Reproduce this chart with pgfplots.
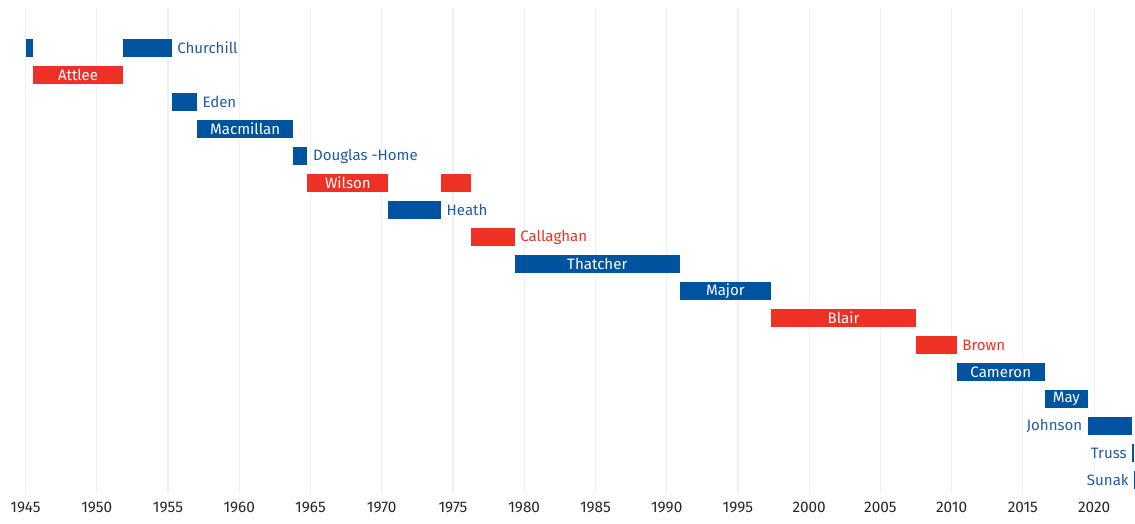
\documentclass[border=0pt]{standalone}
\usepackage{pgfplots}
\pgfplotsset{compat=1.18}
\usepackage{fontspec}
\setmainfont{Fira Sans}
\definecolor{con}{HTML}{00539F}
\definecolor{lab}{HTML}{EE3124}
\definecolor{contxt}{HTML}{1F5CA8}
\definecolor{gridc}{HTML}{EDEFF2}
\newcommand{\lblfont}{\fontsize{11.3}{13}\selectfont}
\newcommand{\tickfont}{\fontsize{11.5}{13}\selectfont}
\begin{document}
\lblfont
\begin{tikzpicture}[lbl/.style={font=\lblfont, inner sep=0pt}]
\begin{axis}[name=ax, at={(0,0)}, anchor=south west, scale only axis,
  width=832.1pt, height=363.75pt,
  xmin=1945, xmax=2022.87, ymin=-0.48, ymax=17.48, y dir=reverse,
  axis line style={draw=none}, ytick=\empty,
  xtick={1945,1950,...,2020}, xmajorgrids,
  grid style={gridc, line width=0.9pt},
  major tick length=0pt,
  xticklabel={\tickfont\pgfmathprintnumber[1000 sep={},assume math mode=true]{\tick}},
  xticklabel style={anchor=center, yshift=-10.5pt, text=black!85},
  clip=false,
]
% Churchill
\addplot[fill=con, draw=none] coordinates {(1945,0.667) (1945.56,0.667) (1945.56,1.333) (1945,1.333)};
\addplot[fill=con, draw=none] coordinates {(1951.82,0.667) (1955.26,0.667) (1955.26,1.333) (1951.82,1.333)};
% Attlee
\addplot[fill=lab, draw=none] coordinates {(1945.56,1.667) (1951.82,1.667) (1951.82,2.333) (1945.56,2.333)};
% Eden
\addplot[fill=con, draw=none] coordinates {(1955.26,2.667) (1957.03,2.667) (1957.03,3.333) (1955.26,3.333)};
% Macmillan
\addplot[fill=con, draw=none] coordinates {(1957.03,3.667) (1963.80,3.667) (1963.80,4.333) (1957.03,4.333)};
% Douglas-Home
\addplot[fill=con, draw=none] coordinates {(1963.80,4.667) (1964.79,4.667) (1964.79,5.333) (1963.80,5.333)};
% Wilson
\addplot[fill=lab, draw=none] coordinates {(1964.79,5.667) (1970.47,5.667) (1970.47,6.333) (1964.79,6.333)};
\addplot[fill=lab, draw=none] coordinates {(1974.17,5.667) (1976.26,5.667) (1976.26,6.333) (1974.17,6.333)};
% Heath
\addplot[fill=con, draw=none] coordinates {(1970.47,6.667) (1974.17,6.667) (1974.17,7.333) (1970.47,7.333)};
% Callaghan
\addplot[fill=lab, draw=none] coordinates {(1976.26,7.667) (1979.34,7.667) (1979.34,8.333) (1976.26,8.333)};
% Thatcher
\addplot[fill=con, draw=none] coordinates {(1979.34,8.667) (1990.91,8.667) (1990.91,9.333) (1979.34,9.333)};
% Major
\addplot[fill=con, draw=none] coordinates {(1990.91,9.667) (1997.33,9.667) (1997.33,10.333) (1990.91,10.333)};
% Blair
\addplot[fill=lab, draw=none] coordinates {(1997.33,10.667) (2007.49,10.667) (2007.49,11.333) (1997.33,11.333)};
% Brown
\addplot[fill=lab, draw=none] coordinates {(2007.49,11.667) (2010.36,11.667) (2010.36,12.333) (2007.49,12.333)};
% Cameron
\addplot[fill=con, draw=none] coordinates {(2010.36,12.667) (2016.53,12.667) (2016.53,13.333) (2010.36,13.333)};
% May
\addplot[fill=con, draw=none] coordinates {(2016.53,13.667) (2019.56,13.667) (2019.56,14.333) (2016.53,14.333)};
% Johnson
\addplot[fill=con, draw=none] coordinates {(2019.56,14.667) (2022.68,14.667) (2022.68,15.333) (2019.56,15.333)};
% Truss
\addplot[fill=con, draw=none] coordinates {(2022.68,15.667) (2022.80,15.667) (2022.80,16.333) (2022.68,16.333)};
% Sunak
\addplot[fill=con, draw=none] coordinates {(2022.82,16.667) (2022.87,16.667) (2022.87,17.333) (2022.82,17.333)};

% labels
\node[lbl, anchor=west, text=contxt, xshift=4pt] at (axis cs:1955.26,1) {Churchill};
\node[lbl, text=white] at (axis cs:1948.69,2) {Attlee};
\node[lbl, anchor=west, text=contxt, xshift=4pt] at (axis cs:1957.03,3) {Eden};
\node[lbl, text=white] at (axis cs:1960.42,4) {Macmillan};
\node[lbl, anchor=west, text=contxt, xshift=4pt] at (axis cs:1964.79,5) {Douglas -Home};
\node[lbl, text=white] at (axis cs:1967.63,6) {Wilson};
\node[lbl, anchor=west, text=contxt, xshift=4pt] at (axis cs:1974.17,7) {Heath};
\node[lbl, anchor=west, text=lab, xshift=4pt] at (axis cs:1979.34,8) {Callaghan};
\node[lbl, text=white] at (axis cs:1985.13,9) {Thatcher};
\node[lbl, text=white] at (axis cs:1994.12,10) {Major};
\node[lbl, text=white] at (axis cs:2002.41,11) {Blair};
\node[lbl, anchor=west, text=lab, xshift=4pt] at (axis cs:2010.36,12) {Brown};
\node[lbl, text=white] at (axis cs:2013.45,13) {Cameron};
\node[lbl, text=white] at (axis cs:2018.05,14) {May};
\node[lbl, anchor=east, text=contxt, xshift=-4pt] at (axis cs:2019.56,15) {Johnson};
\node[lbl, anchor=east, text=contxt, xshift=-4pt] at (axis cs:2022.68,16) {Truss};
\node[lbl, anchor=east, text=contxt, xshift=-4pt] at (axis cs:2022.82,17) {Sunak};
\end{axis}
\pgfresetboundingbox
\path[use as bounding box] (-19.125pt,-22.5pt) rectangle (832.1pt,369.75pt);
\end{tikzpicture}
\end{document}
